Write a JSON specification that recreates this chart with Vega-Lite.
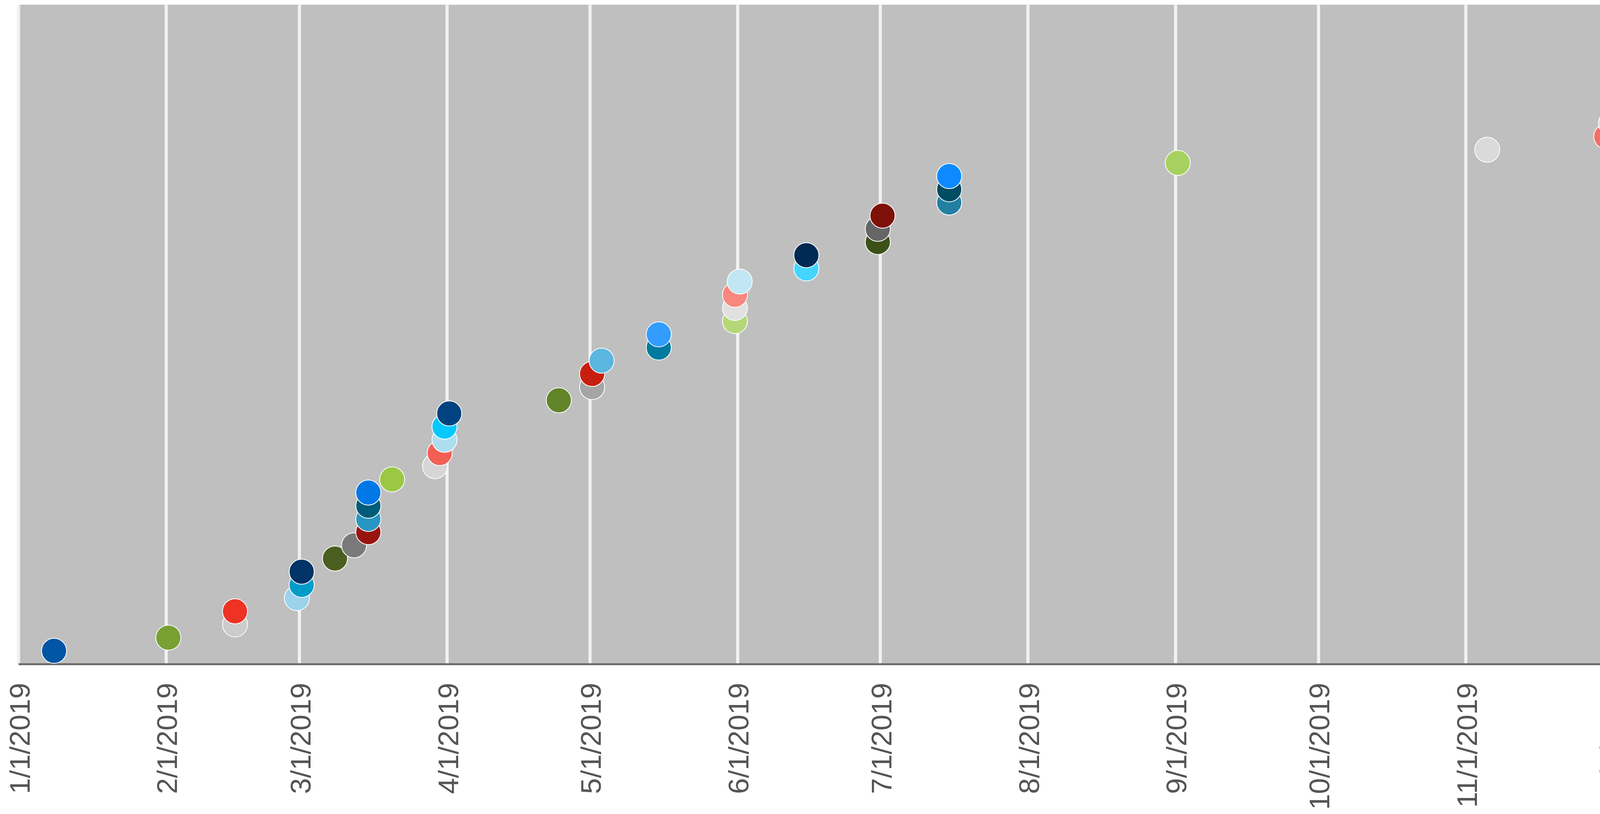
{
  "$schema": "https://vega.github.io/schema/vega-lite/v6.json",
  "autosize": {"type": "none"},
  "padding": {"left": 47, "top": 12, "right": 21, "bottom": 384},
  "width": 4449,
  "height": 1688,
  "background": "#ffffff",
  "config": {
    "view": {"fill": "#bfbfbf", "stroke": null}
  },
  "data": {
    "values": [
      {"n": 1, "id": "P01", "date": "2019-01-08T12:00:00Z"},
      {"n": 2, "id": "P02", "date": "2019-02-01T12:00:00Z"},
      {"n": 3, "id": "P03", "date": "2019-02-15T12:00:00Z"},
      {"n": 4, "id": "P04", "date": "2019-02-15T12:00:00Z"},
      {"n": 5, "id": "P05", "date": "2019-02-28T12:00:00Z"},
      {"n": 6, "id": "P06", "date": "2019-03-01T12:00:00Z"},
      {"n": 7, "id": "P07", "date": "2019-03-01T12:00:00Z"},
      {"n": 8, "id": "P08", "date": "2019-03-08T12:00:00Z"},
      {"n": 9, "id": "P09", "date": "2019-03-12T12:00:00Z"},
      {"n": 10, "id": "P10", "date": "2019-03-15T12:00:00Z"},
      {"n": 11, "id": "P11", "date": "2019-03-15T12:00:00Z"},
      {"n": 12, "id": "P12", "date": "2019-03-15T12:00:00Z"},
      {"n": 13, "id": "P13", "date": "2019-03-15T12:00:00Z"},
      {"n": 14, "id": "P14", "date": "2019-03-20T12:00:00Z"},
      {"n": 15, "id": "P15", "date": "2019-03-29T12:00:00Z"},
      {"n": 16, "id": "P16", "date": "2019-03-30T12:00:00Z"},
      {"n": 17, "id": "P17", "date": "2019-03-31T12:00:00Z"},
      {"n": 18, "id": "P18", "date": "2019-03-31T12:00:00Z"},
      {"n": 19, "id": "P19", "date": "2019-04-01T12:00:00Z"},
      {"n": 20, "id": "P20", "date": "2019-04-24T12:00:00Z"},
      {"n": 21, "id": "P21", "date": "2019-05-01T12:00:00Z"},
      {"n": 22, "id": "P22", "date": "2019-05-01T12:00:00Z"},
      {"n": 23, "id": "P23", "date": "2019-05-03T12:00:00Z"},
      {"n": 24, "id": "P24", "date": "2019-05-15T12:00:00Z"},
      {"n": 25, "id": "P25", "date": "2019-05-15T12:00:00Z"},
      {"n": 26, "id": "P26", "date": "2019-05-31T12:00:00Z"},
      {"n": 27, "id": "P27", "date": "2019-05-31T12:00:00Z"},
      {"n": 28, "id": "P28", "date": "2019-05-31T12:00:00Z"},
      {"n": 29, "id": "P29", "date": "2019-06-01T12:00:00Z"},
      {"n": 30, "id": "P30", "date": "2019-06-15T12:00:00Z"},
      {"n": 31, "id": "P31", "date": "2019-06-15T12:00:00Z"},
      {"n": 32, "id": "P32", "date": "2019-06-30T12:00:00Z"},
      {"n": 33, "id": "P33", "date": "2019-06-30T12:00:00Z"},
      {"n": 34, "id": "P34", "date": "2019-07-01T12:00:00Z"},
      {"n": 35, "id": "P35", "date": "2019-07-15T12:00:00Z"},
      {"n": 36, "id": "P36", "date": "2019-07-15T12:00:00Z"},
      {"n": 37, "id": "P37", "date": "2019-07-15T12:00:00Z"},
      {"n": 38, "id": "P38", "date": "2019-09-01T12:00:00Z"},
      {"n": 39, "id": "P39", "date": "2019-11-05T12:00:00Z"},
      {"n": 40, "id": "P40", "date": "2019-11-30T12:00:00Z"},
      {"n": 41, "id": "P41", "date": "2019-12-01T12:00:00Z"},
      {"n": 42, "id": "P42", "date": "2019-12-31T12:00:00Z"},
      {"n": 43, "id": "P43", "date": "2019-12-31T12:00:00Z"},
      {"n": 44, "id": "P44", "date": "2019-12-31T12:00:00Z"},
      {"n": 45, "id": "P45", "date": "2019-12-31T12:00:00Z"},
      {"n": 46, "id": "P46", "date": "2019-12-31T12:00:00Z"}
    ]
  },
  "mark": {"type": "circle", "size": 4100, "opacity": 1, "stroke": "#ffffff", "strokeWidth": 2},
  "encoding": {
    "x": {
      "field": "date",
      "type": "temporal",
      "scale": {
        "type": "utc",
        "nice": false,
        "domain": [
          {"year": 2019, "month": 1, "date": 1, "utc": true},
          {"year": 2020, "month": 1, "date": 1, "utc": true}
        ]
      },
      "axis": {
        "title": null,
        "values": [
          {"year": 2019, "month": 1, "date": 1, "utc": true},
          {"year": 2019, "month": 2, "date": 1, "utc": true},
          {"year": 2019, "month": 3, "date": 1, "utc": true},
          {"year": 2019, "month": 4, "date": 1, "utc": true},
          {"year": 2019, "month": 5, "date": 1, "utc": true},
          {"year": 2019, "month": 6, "date": 1, "utc": true},
          {"year": 2019, "month": 7, "date": 1, "utc": true},
          {"year": 2019, "month": 8, "date": 1, "utc": true},
          {"year": 2019, "month": 9, "date": 1, "utc": true},
          {"year": 2019, "month": 10, "date": 1, "utc": true},
          {"year": 2019, "month": 11, "date": 1, "utc": true},
          {"year": 2019, "month": 12, "date": 1, "utc": true},
          {"year": 2020, "month": 1, "date": 1, "utc": true}
        ],
        "format": "%-m/%-d/%Y",
        "labelExpr": "utcyear(datum.value) > 2019 ? '' : datum.label",
        "grid": true,
        "gridColor": "#f2f2f2",
        "gridWidth": 8,
        "gridOpacity": 1,
        "ticks": false,
        "tickSize": 0,
        "domain": true,
        "domainColor": "#6b6b6b",
        "domainWidth": 5,
        "labelAngle": -90,
        "labelAlign": "right",
        "labelBaseline": "middle",
        "labelPadding": 48,
        "labelOffset": 6,
        "labelFont": "Liberation Sans",
        "labelFontSize": 73,
        "labelColor": "#555555",
        "labelLimit": 2000,
        "labelOverlap": false,
        "labelBound": false,
        "labelFlush": false
      }
    },
    "y": {
      "field": "n",
      "type": "quantitative",
      "scale": {"domain": [0, 50], "nice": false, "zero": true},
      "axis": null
    },
    "color": {
      "field": "id",
      "type": "nominal",
      "legend": null,
      "scale": {
        "domain": ["P01","P02","P03","P04","P05","P06","P07","P08","P09","P10","P11","P12","P13","P14","P15","P16","P17","P18","P19","P20","P21","P22","P23","P24","P25","P26","P27","P28","P29","P30","P31","P32","P33","P34","P35","P36","P37","P38","P39","P40","P41","P42","P43","P44","P45","P46"],
        "range": ["#0055A5","#78A032","#CCCCCC","#EE3224","#9AD3EB","#009CC8","#003366","#4A5F1F","#7A7A7A","#98150F","#2896C2","#005C78","#0077E6","#9AC845","#D6D6D6","#F15F55","#ADDEF0","#06C8FF","#004380","#618428","#A5A5A5","#C81E10","#5BB7DF","#007A9F","#339CFF","#B4D878","#E1E1E1","#F8877F","#C1E6F4","#44D5FF","#002A52","#3C5118","#666666","#7D110A","#217FA2","#004C63","#0D8AFF","#A6D160","#DADADA","#F36F66","#B8E3F3","#27CFFF","#003B74","#557324","#929292","#B11A12"]
      }
    },
    "order": {"field": "n", "type": "quantitative"}
  }
}
